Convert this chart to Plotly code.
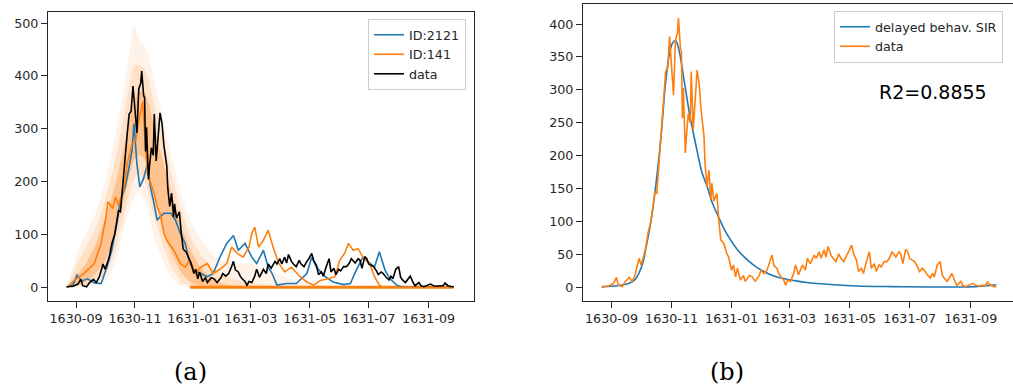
import datetime as dt
import plotly.graph_objects as go

# ---------------- data (day offsets from 1630-09-01) ----------------
BASE = dt.date(1630, 9, 1)

data_days = [-10, -3, 2, 5, 7, 11, 14, 18, 21, 24, 28, 30, 33, 35, 37, 40, 42, 44, 46, 48,
             50, 51, 53, 55, 57, 59, 61, 63, 65, 67, 68, 70, 71, 72, 73, 75, 76, 78, 80, 81,
             83, 85, 87, 89, 91, 94, 95, 97, 99, 101, 102, 104, 107, 109, 111, 114, 117, 119,
             122, 124, 126, 128, 131, 134, 136, 140, 143, 146, 150, 152, 155, 158, 161, 163,
             165, 168, 170, 172, 175, 177, 179, 182, 185, 187, 190, 194, 197, 199, 202, 206,
             208, 211, 213, 216, 218, 220, 223, 225, 228, 231, 233, 236, 239, 241, 244, 246,
             249, 251, 254, 256, 259, 262, 264, 267, 269, 272, 274, 277, 280, 283, 285, 289,
             292, 294, 296, 299, 301, 303, 306, 308, 311, 313, 316, 318, 321, 324, 326, 328,
             331, 334, 336, 338, 341, 344, 346, 349, 351, 355, 357, 360, 363, 367, 370, 373,
             377, 380, 382, 385, 389, 391]
data_vals = [1, 2, 6, 15, 3, 1, 9, 15, 9, 19, 44, 34, 49, 62, 82, 100, 122, 145, 143, 188,
             219, 254, 290, 328, 333, 381, 335, 292, 376, 386, 409, 363, 359, 257, 303, 204, 228, 264, 250, 328,
             239, 281, 330, 310, 269, 229, 188, 153, 178, 133, 158, 131, 143, 102, 72, 67, 52, 46,
             26, 34, 16, 29, 11, 18, 9, 18, 16, 9, 18, 26, 21, 26, 39, 49,
             33, 29, 21, 16, 11, 3, 11, 9, 21, 34, 19, 34, 26, 44, 36, 49,
             44, 54, 44, 57, 46, 62, 49, 44, 39, 51, 44, 39, 49, 54, 64, 51,
             41, 24, 29, 21, 39, 54, 29, 36, 24, 34, 31, 39, 39, 46, 54, 46,
             54, 51, 36, 58, 54, 44, 41, 39, 31, 24, 29, 26, 19, 14, 21, 16,
             34, 39, 19, 14, 9, 16, 21, 9, 3, 9, 3, 1, 3, 6, 3, 2,
             3, 3, 8, 3, 1, 1]

id2121_days = [-9, -3, 1, 6, 12, 19, 26, 32, 37, 41, 46, 51, 55, 58, 60, 63, 66, 70, 74, 77,
               80, 84, 87, 91, 98, 103, 108, 113, 117, 122, 129, 136, 142, 149, 156, 163, 168,
               175, 182, 187, 194, 199, 203, 208, 218, 228, 239, 244, 249, 258, 266, 277, 284,
               290, 297, 304, 309, 314, 320, 325, 332, 337, 345, 391]
id2121_vals = [0, 5, 23, 12, 16, 8, 7, 38, 70, 108, 165, 190, 228, 259, 310, 235, 190, 206, 234, 190,
               165, 127, 133, 140, 140, 127, 102, 83, 51, 32, 26, 20, 26, 57, 83, 98, 70,
               83, 57, 45, 70, 38, 26, 4, 7, 7, 26, 57, 38, 20, 10, 5, 7,
               32, 57, 45, 38, 67, 32, 16, 4, 1, 0, 0]

id141_days = [-9, -2, 8, 19, 26, 31, 33, 38, 41, 44, 50, 53, 58, 62, 65, 69, 71, 74, 77, 81,
              84, 87, 91, 94, 100, 103, 108, 113, 118, 124, 129, 136, 142, 149, 156, 161, 167,
              173, 179, 182, 185, 189, 194, 199, 204, 210, 216, 223, 232, 239, 246, 253, 261,
              268, 273, 278, 282, 287, 292, 297, 304, 309, 314, 318, 391]
id141_vals = [0, 13, 26, 45, 83, 133, 162, 149, 171, 155, 190, 234, 272, 278, 316, 351, 291, 215, 199, 176,
              152, 140, 102, 89, 73, 64, 45, 38, 51, 26, 38, 45, 26, 34, 45, 76, 64,
              57, 76, 102, 114, 76, 89, 108, 76, 45, 29, 38, 20, 10, 4, 13, 16,
              20, 51, 64, 83, 70, 73, 57, 45, 20, 4, 0, 0]

# ensemble of simulation runs: outer (all runs), middle and core (dense) envelopes
ens_days = [-9, 0, 10, 20, 30, 40, 50, 55, 60, 65, 70, 75, 80, 90, 100, 110, 120, 130, 140,
            150, 165, 180, 200, 230, 260, 391]
ens_outer_hi = [2, 60, 100, 140, 200, 280, 380, 440, 496, 470, 460, 440, 400, 320, 240, 170, 120,
                90, 65, 50, 45, 45, 30, 12, 3, 0]
ens_outer_lo = [0, 0, 2, 5, 10, 45, 115, 145, 170, 180, 170, 140, 100, 50, 15, 2, 0, 0, 0,
                0, 0, 0, 0, 0, 0, 0]
ens_mid_hi = [1, 40, 75, 110, 165, 235, 330, 380, 420, 420, 415, 395, 355, 280, 205, 140, 90,
              60, 40, 25, 15, 8, 4, 0, 0, 0]
ens_mid_lo = [0, 1, 5, 12, 25, 65, 140, 175, 205, 215, 205, 180, 140, 80, 35, 10, 2, 0, 0,
              0, 0, 0, 0, 0, 0, 0]
ens_core_hi = [0, 20, 45, 80, 130, 190, 270, 320, 350, 370, 370, 350, 310, 240, 170, 110, 65,
               35, 18, 8, 2, 0, 0, 0, 0, 0]
ens_core_lo = [0, 3, 10, 25, 50, 95, 170, 210, 240, 250, 245, 220, 180, 110, 60, 25, 8, 2, 0,
               0, 0, 0, 0, 0, 0, 0]
ens_zero_days = [118, 391]
ens_zero_vals = [0, 0]

sir_days = [-10, 0, 10, 18, 24, 28, 32, 35, 40, 45, 50, 55, 59, 62, 65, 68, 74, 79, 86, 92, 97,
            102, 109, 115, 121, 128, 135, 148, 165, 182, 200, 216, 250, 285, 320, 350, 370,
            382, 391]
sir_vals = [0.5, 1.5, 3.5, 6, 12, 22, 38, 60, 100, 155, 224, 312, 356, 371, 375, 364, 312, 266,
            214, 174, 154, 130, 106, 87, 72, 57, 46, 30, 17, 11, 7, 5, 2, 1, 0.5, 0.5, 1, 2.5, 4]

r2_text = "R2=0.8855"
x_range_days_left = [-29, 412]
x_range_days_right = [-29, 408.5]
y_range_left = [-26, 521]
y_range_right = [-20.8, 430.5]


def to_dates(days):
    return [(BASE + dt.timedelta(days=float(d))).isoformat() for d in days]


# ---------------- figure ----------------
W, H = 1013, 388
BLUE = "#1f77b4"
ORANGE = "#ff7f0e"
AX = "#262626"
FONT = "DejaVu Sans"

fig = go.Figure()


def band(lo, hi, color):
    fig.add_trace(go.Scatter(x=to_dates(ens_days), y=lo, mode="lines", line=dict(width=0, smoothing=0.7),
                             line_shape="spline", showlegend=False, hoverinfo="skip",
                             xaxis="x", yaxis="y"))
    fig.add_trace(go.Scatter(x=to_dates(ens_days), y=hi, mode="lines", line=dict(width=0, smoothing=0.7),
                             line_shape="spline", fill="tonexty", fillcolor=color,
                             showlegend=False, hoverinfo="skip", xaxis="x", yaxis="y"))


band(ens_outer_lo, ens_outer_hi, "rgba(255,127,14,0.09)")
band(ens_mid_lo, ens_mid_hi, "rgba(255,127,14,0.15)")
band(ens_core_lo, ens_core_hi, "rgba(255,127,14,0.30)")
fig.add_trace(go.Scatter(x=to_dates(ens_zero_days), y=ens_zero_vals, mode="lines",
                         line=dict(color=ORANGE, width=3), showlegend=False, hoverinfo="skip",
                         xaxis="x", yaxis="y"))

fig.add_trace(go.Scatter(x=to_dates(id2121_days), y=id2121_vals, mode="lines", name="ID:2121",
                         line=dict(color=BLUE, width=1.6), xaxis="x", yaxis="y", legend="legend"))
fig.add_trace(go.Scatter(x=to_dates(id141_days), y=id141_vals, mode="lines", name="ID:141",
                         line=dict(color=ORANGE, width=1.6), xaxis="x", yaxis="y", legend="legend"))
fig.add_trace(go.Scatter(x=to_dates(data_days), y=data_vals, mode="lines", name="data",
                         line=dict(color="black", width=1.6), xaxis="x", yaxis="y", legend="legend"))

# right panel
fig.add_trace(go.Scatter(x=to_dates(sir_days), y=sir_vals, mode="lines", name="delayed behav. SIR",
                         line=dict(color=BLUE, width=1.6), line_shape="spline",
                         xaxis="x2", yaxis="y2", legend="legend2"))
fig.add_trace(go.Scatter(x=to_dates(data_days), y=data_vals, mode="lines", name="data",
                         line=dict(color=ORANGE, width=1.6),
                         xaxis="x2", yaxis="y2", legend="legend2"))

axis_common = dict(showline=True, linecolor=AX, linewidth=1.2, ticks="outside", ticklen=6,
                   tickwidth=1.2, tickcolor=AX, showgrid=False, zeroline=False,
                   tickfont=dict(family=FONT, size=12.7, color=AX))
xdate = dict(type="date", dtick="M2", tick0="1630-09-01", tickformat="%Y-%m")

fig.update_layout(
    width=W, height=H, margin=dict(l=0, r=0, t=0, b=0),
    paper_bgcolor="white", plot_bgcolor="white",
    font=dict(family=FONT, size=12.7, color=AX),
    xaxis=dict(domain=[48 / W, 474 / W], anchor="y", mirror=True,
               range=to_dates(x_range_days_left), **xdate, **axis_common),
    yaxis=dict(domain=[87 / H, 376 / H], anchor="x", mirror=True, range=y_range_left,
               dtick=100, tick0=0, **axis_common),
    xaxis2=dict(domain=[583 / W, 1.0], anchor="y2", mirror=True,
                range=to_dates(x_range_days_right), **xdate, **axis_common),
    yaxis2=dict(domain=[87 / H, 384 / H], anchor="x2", mirror=False, range=y_range_right,
                dtick=50, tick0=0, **axis_common),
    legend=dict(x=368 / W, y=(H - 19) / H, xanchor="left", yanchor="top", traceorder="normal",
                bgcolor="rgba(255,255,255,0.85)", bordercolor="#cccccc", borderwidth=1,
                font=dict(family=FONT, size=12.7, color=AX), tracegroupgap=0),
    legend2=dict(x=834 / W, y=(H - 11) / H, xanchor="left", yanchor="top", traceorder="normal",
                 bgcolor="rgba(255,255,255,0.85)", bordercolor="#cccccc", borderwidth=1,
                 font=dict(family=FONT, size=12.7, color=AX), tracegroupgap=0),
    annotations=[
        dict(text=r2_text, xref="paper", yref="paper", x=932.7 / W, y=(H - 92) / H,
             xanchor="center", yanchor="middle", showarrow=False,
             font=dict(family=FONT, size=19, color="black")),
        dict(text="(a)", xref="paper", yref="paper", x=190.8 / W, y=(H - 372) / H,
             xanchor="center", yanchor="middle", showarrow=False,
             font=dict(family="DejaVu Serif", size=24, color="black")),
        dict(text="(b)", xref="paper", yref="paper", x=727 / W, y=(H - 372) / H,
             xanchor="center", yanchor="middle", showarrow=False,
             font=dict(family="DejaVu Serif", size=24, color="black")),
    ],
)

fig.write_html("out.html")
